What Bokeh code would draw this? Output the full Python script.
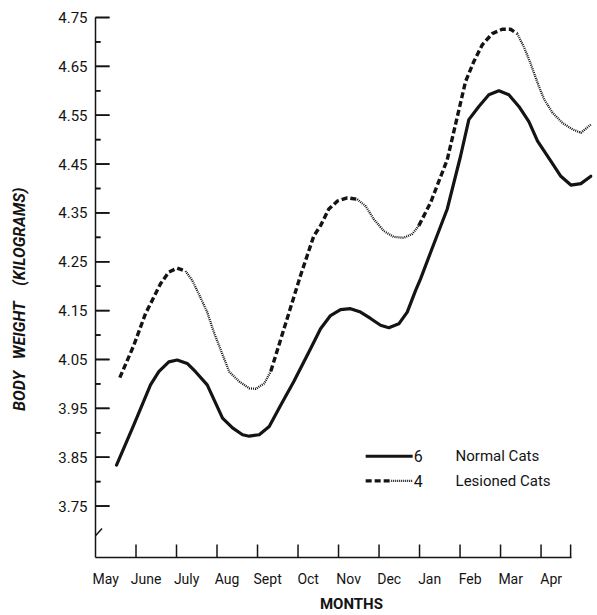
from bokeh.plotting import figure
from bokeh.models import Range1d, LinearAxis, FixedTicker, ColumnDataSource
from bokeh.core.properties import value
from bokeh.embed import file_html
from bokeh.resources import INLINE

FONT = "Roboto"
INK = "#141414"
NB = "\u00a0"

# ---- data ----
months = ["May", "June", "July", "Aug", "Sept", "Oct", "Nov", "Dec", "Jan", "Feb", "Mar", "Apr"]
month_index = [0, 1, 2, 3, 4, 5, 6, 7, 8, 9, 10, 11]
x_tick_marks = [1, 2, 3, 4, 5, 6, 7, 8, 9, 10, 11, 11.73]
y_major = [3.75, 3.85, 3.95, 4.05, 4.15, 4.25, 4.35, 4.45, 4.55, 4.65, 4.75]
y_minor = [3.80, 3.90, 4.00, 4.10, 4.20, 4.30, 4.40, 4.50, 4.60, 4.70]

normal_x = [0.519, 0.946, 1.358, 1.563, 1.810, 2.017, 2.264, 2.469, 2.758, 3.136, 3.383, 3.630,
            3.795, 4.042, 4.289, 4.575, 4.896, 5.309, 5.556, 5.802, 6.049, 6.296, 6.543, 6.790,
            7.037, 7.242, 7.489, 7.696, 7.901, 8.025, 8.272, 8.684, 9.012, 9.217, 9.464, 9.711,
            9.958, 10.205, 10.452, 10.699, 10.914, 11.242, 11.489, 11.736, 11.983, 12.230]
normal_y = [3.834, 3.916, 3.998, 4.025, 4.045, 4.049, 4.042, 4.025, 3.998, 3.930, 3.910, 3.896,
            3.893, 3.896, 3.913, 3.957, 4.005, 4.072, 4.113, 4.140, 4.152, 4.154, 4.147, 4.134,
            4.120, 4.115, 4.123, 4.147, 4.191, 4.215, 4.269, 4.358, 4.466, 4.541, 4.568, 4.592,
            4.600, 4.592, 4.568, 4.537, 4.497, 4.456, 4.425, 4.407, 4.410, 4.425]

lesioned_x = [0.600, 0.946, 1.235, 1.400, 1.605, 1.810, 2.017, 2.222, 2.388, 2.551, 2.758, 2.921,
              3.301, 3.548, 3.795, 3.958, 4.165, 4.328, 4.733, 5.062, 5.390, 5.556, 5.760, 5.968,
              6.215, 6.462, 6.667, 6.872, 7.119, 7.365, 7.612, 7.820, 7.983, 8.272, 8.684, 9.136,
              9.341, 9.548, 9.795, 10.042, 10.247, 10.412, 10.575, 10.741, 10.946, 11.079, 11.284,
              11.531, 11.778, 11.983, 12.230]
lesioned_y = [4.013, 4.079, 4.144, 4.171, 4.205, 4.229, 4.237, 4.231, 4.212, 4.184, 4.147, 4.106,
              4.025, 4.005, 3.991, 3.990, 4.001, 4.026, 4.134, 4.222, 4.303, 4.324, 4.358, 4.374,
              4.381, 4.378, 4.364, 4.337, 4.313, 4.301, 4.299, 4.307, 4.324, 4.371, 4.459, 4.619,
              4.660, 4.694, 4.717, 4.726, 4.726, 4.717, 4.690, 4.656, 4.609, 4.582, 4.555,
              4.534, 4.521, 4.514, 4.531]
# stretches of the lesioned curve drawn dashed (the rest is dotted)
lesioned_dash_spans = [(0.600, 2.222), (4.328, 6.462), (7.983, 10.412)]

legend_counts = ["6", "4"]
legend_names = ["Normal Cats", "Lesioned Cats"]

# ---- figure ----
W, H = 597, 615
BL, BR, BT, BB = 95, 5, 17, 55
X_END = 12.27
Y_START, Y_END = 3.6447, 4.75
p = figure(width=W, height=H,
           x_range=Range1d(0, X_END), y_range=Range1d(Y_START, Y_END),
           x_axis_type=None, y_axis_type=None,
           output_backend="svg", toolbar_location=None,
           min_border_left=BL, min_border_right=BR, min_border_top=BT, min_border_bottom=BB)
p.outline_line_color = None
p.background_fill_color = "white"
p.border_fill_color = "white"
px_per_x = (W - BL - BR) / X_END

yaxis = LinearAxis(
    ticker=FixedTicker(ticks=y_major, minor_ticks=y_minor),
    major_tick_in=0, major_tick_out=0, minor_tick_in=0, minor_tick_out=0,
    axis_line_color=INK, axis_line_width=1.5,
    major_label_standoff=8,
    major_label_text_font=FONT, major_label_text_font_size="15px", major_label_text_color=INK,
    axis_label="BODY" + NB * 2 + " WEIGHT" + NB * 3 + " (KILOGRAMS)" + NB * 6,
    axis_label_text_font=FONT, axis_label_text_font_size="16px",
    axis_label_text_font_style="bold italic", axis_label_text_color=INK,
    axis_label_standoff=26,
)
p.add_layout(yaxis, "left")

label_pos = [m + 0.25 for m in month_index]
xaxis = LinearAxis(
    ticker=FixedTicker(ticks=label_pos),
    bounds=(0, 11.75),
    major_tick_in=0, major_tick_out=0, minor_tick_in=0, minor_tick_out=0,
    axis_line_color=INK, axis_line_width=1.5,
    major_label_overrides={pos: name for pos, name in zip(label_pos, months)},
    major_label_standoff=13,
    major_label_text_font=FONT, major_label_text_font_size="14px", major_label_text_color=INK,
    axis_label=NB * 4 + "MONTHS", axis_label_text_font=FONT, axis_label_text_font_size="15px",
    axis_label_text_font_style="bold", axis_label_text_color=INK,
    axis_label_standoff=5,
)
p.add_layout(xaxis, "below")

# inward tick marks (fixed pixel sizes), drawn on top
maj_src = ColumnDataSource(dict(x=[7 / px_per_x] * len(y_major), y=list(y_major)))
min_src = ColumnDataSource(dict(x=[2.5 / px_per_x] * len(y_minor), y=list(y_minor)))
r1 = p.rect(x="x", y="y", width=14, height=1.6, width_units="screen", height_units="screen",
            source=maj_src, fill_color=INK, line_color=None)
r2 = p.rect(x="x", y="y", width=5, height=1.6, width_units="screen", height_units="screen",
            source=min_src, fill_color=INK, line_color=None)
r3 = p.scatter(x="x", y="y", marker="dash", size=14, source=maj_src,
               line_color=INK, line_width=1.6)
r4 = p.scatter(x="x", y="y", marker="dash", size=5, source=min_src,
               line_color=INK, line_width=1.6)
r5 = p.ray(x=x_tick_marks, y=[Y_START] * len(x_tick_marks), length=13, length_units="screen",
           angle=1.5708, line_color=INK, line_width=1.5)
for r in (r1, r2, r3, r4, r5):
    r.level = "overlay"

# axis break mark
p.segment(x0=[0], y0=[3.689], x1=[0.16], y1=[3.704], line_color=INK, line_width=1.5)

# ---- series ----
p.line(normal_x, normal_y, line_color=INK, line_width=3.2, line_join="round", line_cap="round")

dash_xs, dash_ys, dot_xs, dot_ys = [], [], [], []
bounds_pts = [lesioned_x[0]]
for a, b in lesioned_dash_spans:
    bounds_pts += [a, b]
bounds_pts.append(lesioned_x[-1])
for k in range(len(bounds_pts) - 1):
    a, b = bounds_pts[k], bounds_pts[k + 1]
    if b <= a:
        continue
    xs = [x for x in lesioned_x if a <= x <= b]
    ys = [y for x, y in zip(lesioned_x, lesioned_y) if a <= x <= b]
    if k % 2 == 1:
        dash_xs.append(xs); dash_ys.append(ys)
    else:
        dot_xs.append(xs); dot_ys.append(ys)

p.multi_line(dot_xs, dot_ys, line_color=INK, line_width=2.3, line_dash="1 1")
p.multi_line(dash_xs, dash_ys, line_color=INK, line_width=3.4, line_dash="6 3")

# ---- hand-drawn style legend ----
LEG_X0, LEG_XMID, LEG_X1 = 6.67, 7.30, 7.83
LEG_Y = [3.852, 3.8015]
p.line([LEG_X0, LEG_X1], [LEG_Y[0], LEG_Y[0]], line_color=INK, line_width=3)
p.line([LEG_X0, LEG_XMID], [LEG_Y[1], LEG_Y[1]], line_color=INK, line_width=3.2, line_dash="6 3")
p.line([LEG_XMID, LEG_X1], [LEG_Y[1], LEG_Y[1]], line_color=INK, line_width=2.2, line_dash="1 1")

leg_src = ColumnDataSource(dict(y=LEG_Y, count=legend_counts, name=legend_names))
p.text(x=7.86, y="y", text="count", source=leg_src, text_font=value(FONT),
       text_font_size="16px", text_baseline="middle", text_align="left", text_color=INK)
p.text(x=8.89, y="y", text="name", source=leg_src, text_font=value(FONT),
       text_font_size="15px", text_baseline="middle", text_align="left", text_color=INK)

open("out.html", "w").write(file_html(p, INLINE))
